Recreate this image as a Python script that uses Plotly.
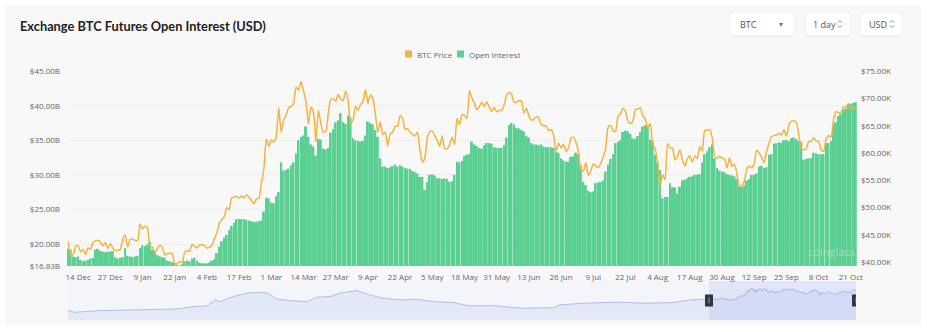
import plotly.graph_objects as go
import pandas as pd

# ---------------- data ----------------
dates = pd.date_range("2023-12-10", "2024-10-23", freq="D")

oi_dec = [19.3, 19.2, 18.2, 18.1, 18.2, 17.7, 17.5, 17.6, 17.7, 17.9, 18.0, 19.2, 19.3, 19.0, 18.9, 18.8,
          18.9, 18.9, 19.0, 18.1, 17.9, 18.0]
oi_jan = [18.1, 19.4, 18.3, 18.2, 18.1, 18.2, 18.3, 19.4, 19.8, 19.7, 19.9, 20.3, 19.2, 19.0, 18.4, 18.2,
          18.1, 18.0, 17.6, 17.5, 17.4, 17.3, 17.0, 16.9, 17.1, 17.5, 17.6, 17.5, 17.9, 18.0, 17.6]
oi_feb = [17.3, 17.2, 17.2, 17.2, 17.3, 17.6, 17.8, 18.7, 19.6, 20.4, 20.9, 21.3, 22.0, 22.6, 23.1, 23.6,
          23.6, 23.6, 23.6, 23.5, 23.4, 23.3, 23.2, 23.2, 23.3, 23.4, 24.7, 26.7, 26.6]
oi_mar = [26.0, 25.9, 26.9, 27.5, 31.8, 30.6, 30.7, 30.9, 31.4, 31.8, 33.1, 35.0, 35.5, 35.7, 37.0, 35.5,
          34.4, 34.1, 32.8, 35.2, 35.1, 33.8, 33.7, 33.9, 36.1, 36.6, 37.6, 37.9, 38.9, 37.6, 37.4]
oi_apr = [38.6, 38.3, 35.3, 35.0, 34.9, 34.8, 34.9, 35.7, 37.7, 37.5, 37.3, 36.5, 35.5, 32.4, 31.2, 31.2,
          31.0, 31.1, 31.3, 31.5, 31.2, 31.4, 31.2, 31.0, 30.9, 30.9, 30.6, 30.4, 30.2, 29.7]
oi_may = [29.7, 27.8, 29.0, 30.0, 30.1, 29.9, 29.5, 29.5, 29.4, 29.5, 29.4, 29.0, 29.1, 30.0, 31.9, 31.8,
          32.0, 32.7, 32.9, 33.0, 34.8, 34.4, 34.2, 33.9, 33.8, 34.3, 34.6, 34.6, 34.5, 34.0, 33.9]
oi_jun = [33.9, 33.9, 34.3, 35.4, 37.2, 37.5, 37.3, 36.8, 36.7, 36.5, 36.3, 35.6, 35.4, 34.6, 34.4, 34.4,
          34.3, 34.4, 34.1, 34.0, 34.0, 34.0, 33.9, 33.3, 33.2, 32.4, 32.1, 31.9, 31.9, 32.6]
oi_jul = [32.7, 33.2, 33.0, 31.4, 29.0, 28.5, 27.7, 27.5, 27.6, 28.8, 28.9, 29.0, 29.2, 30.5, 31.5, 32.3,
          33.0, 34.6, 34.8, 35.0, 36.2, 36.4, 36.3, 35.9, 35.3, 35.2, 35.6, 36.2, 37.0, 37.2, 37.1]
oi_aug = [35.1, 34.9, 32.9, 31.8, 30.7, 26.6, 26.8, 26.8, 28.8, 28.2, 28.2, 27.3, 28.3, 29.2, 29.3, 29.5,
          29.7, 29.8, 30.0, 30.0, 30.1, 31.8, 33.0, 33.4, 34.0, 34.4, 32.4, 31.0, 30.6, 30.5, 30.4]
oi_sep = [30.1, 30.0, 29.9, 29.8, 29.4, 28.4, 28.3, 28.5, 29.2, 29.4, 30.0, 30.0, 30.2, 31.2, 31.3, 31.0,
          31.1, 32.9, 33.0, 34.5, 34.6, 34.7, 34.6, 35.0, 35.1, 34.9, 35.3, 35.4, 35.2, 34.9]
oi_oct = [34.8, 32.2, 32.3, 32.4, 32.4, 33.2, 33.1, 33.0, 33.0, 33.0, 34.6, 34.6, 34.9, 37.2, 37.6, 38.5,
          38.8, 39.4, 39.6, 40.1, 40.3, 40.4, 40.5]
open_interest_b = (oi_dec + oi_jan + oi_feb + oi_mar + oi_apr + oi_may + oi_jun + oi_jul + oi_aug
                   + oi_sep + oi_oct)

px_dec = [43.8, 41.2, 41.4, 42.9, 43.0, 41.9, 42.3, 41.4, 42.6, 42.3, 43.6, 43.9, 44.0, 43.7, 43.0, 43.6,
          42.5, 43.4, 42.6, 42.1, 42.2, 42.3]
px_jan = [44.2, 45.0, 42.8, 44.2, 44.2, 44.0, 43.9, 47.0, 46.1, 46.6, 46.3, 42.9, 42.8, 41.7, 42.5, 43.1,
          42.7, 41.3, 41.6, 41.6, 41.6, 39.5, 39.8, 40.1, 39.9, 41.8, 42.1, 42.0, 43.3, 42.9, 42.6]
px_feb = [43.1, 43.2, 43.0, 42.6, 42.7, 43.1, 44.3, 45.3, 47.1, 47.8, 48.3, 50.0, 49.7, 51.8, 51.9, 52.1,
          51.7, 52.1, 51.8, 52.3, 51.9, 51.3, 50.7, 51.6, 51.7, 54.5, 57.1, 62.5, 61.2]
px_mar = [62.4, 62.0, 63.1, 68.3, 63.8, 66.1, 66.9, 68.3, 68.5, 69.0, 72.1, 71.5, 73.1, 71.4, 69.4, 65.3,
          68.4, 67.6, 62.0, 67.8, 65.5, 63.8, 64.0, 67.2, 69.9, 69.9, 69.5, 70.7, 69.9, 69.6, 71.3]
px_apr = [69.6, 65.5, 66.0, 68.5, 67.8, 68.9, 69.4, 71.6, 69.1, 70.6, 70.0, 67.2, 63.8, 65.7, 63.4, 63.8,
          61.3, 63.5, 63.8, 64.9, 64.9, 66.8, 66.4, 64.3, 64.5, 63.8, 63.4, 63.1, 63.8, 60.6]
px_may = [58.3, 59.1, 62.9, 63.9, 64.0, 63.2, 62.3, 61.2, 63.1, 60.8, 60.8, 61.5, 62.9, 61.6, 66.3, 65.2,
          67.0, 66.9, 66.3, 71.4, 70.1, 69.1, 67.9, 68.5, 69.3, 68.5, 69.4, 68.4, 67.6, 68.4, 67.5]
px_jun = [67.8, 67.8, 68.8, 70.6, 71.1, 70.8, 69.3, 69.3, 69.6, 69.5, 67.3, 68.2, 66.8, 66.0, 66.2, 66.6,
          66.5, 65.2, 65.0, 64.9, 64.1, 64.3, 63.2, 60.3, 61.8, 60.9, 61.6, 60.3, 60.9, 62.7]
px_jul = [62.9, 62.0, 60.2, 57.0, 56.7, 58.2, 55.9, 56.7, 58.0, 57.7, 57.3, 58.0, 59.2, 60.8, 64.7, 65.1,
          64.1, 63.9, 66.7, 67.2, 68.2, 67.6, 65.9, 65.4, 65.8, 68.0, 68.0, 68.3, 66.8, 66.2, 64.6]
px_aug = [65.4, 61.5, 60.7, 58.1, 54.0, 56.0, 55.1, 61.7, 60.9, 60.9, 58.7, 59.4, 60.6, 58.7, 57.6, 58.9,
          59.5, 58.4, 59.5, 59.0, 61.2, 60.4, 64.1, 64.2, 64.2, 62.9, 59.4, 59.0, 59.4, 59.1, 58.9]
px_sep = [57.3, 59.1, 57.5, 58.0, 56.2, 53.9, 54.1, 54.8, 57.0, 57.6, 57.3, 58.1, 60.5, 60.0, 59.2, 58.2,
          60.3, 61.8, 63.0, 63.2, 63.3, 63.6, 63.3, 64.3, 63.1, 65.2, 65.8, 65.9, 65.6, 63.3]
px_oct = [60.8, 60.6, 60.8, 62.1, 62.1, 62.8, 62.2, 62.1, 60.6, 60.3, 62.5, 63.2, 62.9, 66.1, 67.6, 67.4,
          67.4, 68.4, 68.4, 69.0, 68.0, 68.4, 68.2]
btc_price_k = (px_dec + px_jan + px_feb + px_mar + px_apr + px_may + px_jun + px_jul + px_aug
               + px_sep + px_oct)

# overview (range slider) history before the selected window, BTC price in K USD
hist_dates = ["2020-02-22", "2020-03-08", "2020-05-01", "2020-07-12", "2020-10-15", "2020-11-18",
              "2020-12-19", "2021-01-05", "2021-01-16", "2021-02-13", "2021-03-15", "2021-04-12",
              "2021-04-30", "2021-05-19", "2021-06-16", "2021-07-23", "2021-08-14", "2021-09-11",
              "2021-10-02", "2021-10-24", "2021-11-08", "2021-11-30", "2022-01-03", "2022-02-09",
              "2022-03-18", "2022-04-22", "2022-06-04", "2022-07-11", "2022-08-29", "2022-11-02",
              "2023-01-06", "2023-01-21", "2023-03-12", "2023-05-24", "2023-07-28", "2023-09-23",
              "2023-10-29"]
hist_price_k = [12.2, 7.8, 12.2, 14.1, 16.8, 23.0, 24.9, 41.1, 36.5, 50.0, 59.2, 61.9, 59.2, 43.0, 39.2,
                36.5, 48.4, 50.0, 59.2, 63.5, 66.2, 56.5, 45.7, 41.1, 43.0, 36.5, 33.8, 24.9, 25.7, 18.6,
                20.3, 27.6, 32.2, 34.9, 32.2, 33.8, 41.1]

oi_ticks = [16.83, 20, 25, 30, 35, 40, 45]
price_ticks = [40, 45, 50, 55, 60, 65, 70, 75]
tick_dates = list(dates[4::13])

assert len(open_interest_b) == len(dates) == len(btc_price_k)

# ---------------- layout helpers ----------------
W, H = 927, 332
ML, MR, MT, MB = 67, 70, 71, 12
PW, PH = W - ML - MR, H - MT - MB


def xp(px):
    return (px - ML) / PW


def yp(py):
    return (H - MB - py) / PH


def rrect(x0, y0, x1, y1, r):
    pts = [("M", x0 + r, y0), ("L", x1 - r, y0), ("Q", x1, y0, x1, y0 + r), ("L", x1, y1 - r),
           ("Q", x1, y1, x1 - r, y1), ("L", x0 + r, y1), ("Q", x0, y1, x0, y1 - r), ("L", x0, y0 + r),
           ("Q", x0, y0, x0 + r, y0)]
    s = ""
    for p in pts:
        cmd, vals = p[0], p[1:]
        coords = []
        for i in range(0, len(vals), 2):
            coords.append(f"{xp(vals[i]):.5f},{yp(vals[i + 1]):.5f}")
        s += cmd + " " + " ".join(coords) + " "
    return s + "Z"


FONT = "Open Sans"
GREEN = "#5ccf92"
ORANGE = "#f3b43f"

fig = go.Figure()

fig.add_trace(go.Bar(x=dates, y=open_interest_b, name="Open Interest", marker_color=GREEN,
                     marker_line_width=0, xaxis="x", yaxis="y", showlegend=False))
fig.add_trace(go.Scatter(x=dates, y=btc_price_k, name="BTC Price", mode="lines",
                         line=dict(color=ORANGE, width=1.5, shape="spline", smoothing=0.6),
                         xaxis="x", yaxis="y3", showlegend=False))
fig.add_trace(go.Scatter(x=list(pd.to_datetime(hist_dates)) + list(dates),
                         y=hist_price_k + btc_price_k, mode="lines",
                         line=dict(color="#aab7e8", width=0.9), fill="tozeroy", fillcolor="#e3e8f7",
                         xaxis="x2", yaxis="y2", showlegend=False, hoverinfo="skip"))

half = pd.Timedelta(hours=12)
shapes = [
    dict(type="rect", xref="paper", yref="paper", x0=xp(5), x1=xp(921), y0=yp(325), y1=yp(6),
         fillcolor="#f8f8f9", line=dict(width=0), layer="below"),
    dict(type="rect", xref="x2 domain", yref="y2 domain", x0=0, x1=1, y0=0, y1=1,
         fillcolor="#f3f5fb", line=dict(width=0), layer="below"),
    dict(type="rect", xref="x2 domain", yref="y2 domain", x0=0, x1=1, y0=0, y1=13 / 105,
         fillcolor="#e3e8f7", line=dict(width=0), layer="below"),
    dict(type="rect", xref="x2", yref="y2 domain", x0=dates[0], x1=dates[-1], y0=0, y1=1,
         fillcolor="rgba(110,140,235,0.14)", line=dict(width=0), layer="above"),
]
for d in (dates[0], dates[-1]):
    shapes.append(dict(type="rect", xref="x2", yref="y2 domain", xsizemode="pixel", ysizemode="pixel",
                       xanchor=d, yanchor=0.5, x0=-4, x1=4, y0=-6, y1=6,
                       fillcolor="#2f3541", line=dict(width=0), layer="above"))
    shapes.append(dict(type="line", xref="x2", yref="y2 domain", xsizemode="pixel", ysizemode="pixel",
                       xanchor=d, yanchor=0.5, x0=0, x1=0, y0=-3, y1=3,
                       line=dict(color="#9aa0aa", width=1), layer="above"))

# dropdown boxes
for (bx0, bx1) in [(730, 795), (805, 850), (860, 902)]:
    shapes.append(dict(type="path", xref="paper", yref="paper", path=rrect(bx0, 13.5, bx1, 37.5, 3),
                       fillcolor="rgba(0,0,0,0.035)", line=dict(width=0)))
    shapes.append(dict(type="path", xref="paper", yref="paper", path=rrect(bx0, 12, bx1, 36, 3),
                       fillcolor="#ffffff", line=dict(color="#ededed", width=1)))
# up/down chevrons
for cx in (840, 892):
    cy = 24
    for s in (1, -1):
        p = (f"M {xp(cx - 2.2):.5f},{yp(cy - s * 1.3):.5f} L {xp(cx):.5f},{yp(cy - s * 3.6):.5f} "
             f"L {xp(cx + 2.2):.5f},{yp(cy - s * 1.3):.5f}")
        shapes.append(dict(type="path", xref="paper", yref="paper", path=p,
                           line=dict(color="#8a8a8a", width=0.9)))
# legend squares
shapes.append(dict(type="rect", xref="paper", yref="paper", x0=xp(405), x1=xp(412), y0=yp(57.5),
                   y1=yp(50.5), fillcolor=ORANGE, line=dict(width=0)))
shapes.append(dict(type="rect", xref="paper", yref="paper", x0=xp(457), x1=xp(464), y0=yp(57.5),
                   y1=yp(50.5), fillcolor=GREEN, line=dict(width=0)))

annotations = [
    dict(text="<b>Exchange BTC Futures Open Interest (USD)</b>", x=xp(18), y=yp(26), xref="paper",
         yref="paper", xanchor="left", yanchor="middle", showarrow=False,
         font=dict(family="Lato", size=12.8, color="#222222")),
    dict(text="BTC Price", x=xp(415), y=yp(54), xref="paper", yref="paper", xanchor="left",
         yanchor="middle", showarrow=False, font=dict(family=FONT, size=8, color="#666666")),
    dict(text="Open Interest", x=xp(467), y=yp(54), xref="paper", yref="paper", xanchor="left",
         yanchor="middle", showarrow=False, font=dict(family=FONT, size=8, color="#666666")),
    dict(text="BTC", x=xp(738), y=yp(24), xref="paper", yref="paper", xanchor="left",
         yanchor="middle", showarrow=False, font=dict(family=FONT, size=9, color="#555555")),
    dict(text="▾", x=xp(781), y=yp(24), xref="paper", yref="paper", xanchor="center",
         yanchor="middle", showarrow=False, font=dict(family="DejaVu Sans", size=8, color="#777777")),
    dict(text="1 day", x=xp(811), y=yp(24), xref="paper", yref="paper", xanchor="left",
         yanchor="middle", showarrow=False, font=dict(family=FONT, size=9, color="#555555")),
    dict(text="USD", x=xp(867), y=yp(24), xref="paper", yref="paper", xanchor="left",
         yanchor="middle", showarrow=False, font=dict(family=FONT, size=9, color="#555555")),
    dict(text="coinglass", x=xp(806), y=yp(251), xref="paper", yref="paper", xanchor="left",
         yanchor="middle", showarrow=False,
         font=dict(family=FONT, size=11, color="rgba(225,225,225,0.55)")),
]

axis_font = dict(family=FONT, size=8, color="#666666")
fig.update_layout(
    width=W, height=H,
    margin=dict(l=ML, r=MR, t=MT, b=MB, pad=0, autoexpand=False),
    paper_bgcolor="#ffffff", plot_bgcolor="rgba(0,0,0,0)",
    bargap=0.2, showlegend=False, font=dict(family=FONT),
    xaxis=dict(domain=[0, 1], anchor="y", type="date", range=[dates[0] - half, dates[-1] + half],
               tickmode="array", tickvals=tick_dates, tickformat="%-d %b", ticks="", showgrid=False,
               showline=False, zeroline=False, tickfont=axis_font, ticklabelstandoff=5,
               automargin=False),
    yaxis=dict(domain=[yp(266), 1], anchor="x", range=[16.82, 45.02], tickmode="array",
               tickvals=oi_ticks, ticktext=[f"${v:.2f}B" for v in oi_ticks], showgrid=True,
               gridcolor="#ededed", gridwidth=1, zeroline=False, showline=False, ticks="",
               tickfont=axis_font, ticklabelstandoff=6, automargin=False),
    yaxis3=dict(overlaying="y", side="right", anchor="x", range=[39.3, 75.02], tickmode="array",
                tickvals=price_ticks, ticktext=[f"${v:.2f}K" for v in price_ticks], showgrid=False,
                zeroline=False, showline=False, ticks="", tickfont=axis_font, ticklabelstandoff=3,
                automargin=False),
    xaxis2=dict(domain=[xp(68), xp(856)], anchor="y2", type="date",
                range=[pd.Timestamp(hist_dates[0]), dates[-1]], visible=False, automargin=False),
    yaxis2=dict(domain=[0, yp(281)], anchor="x2", range=[-13, 92], visible=False, automargin=False),
    shapes=shapes, annotations=annotations,
)

fig.write_html("out.html")
